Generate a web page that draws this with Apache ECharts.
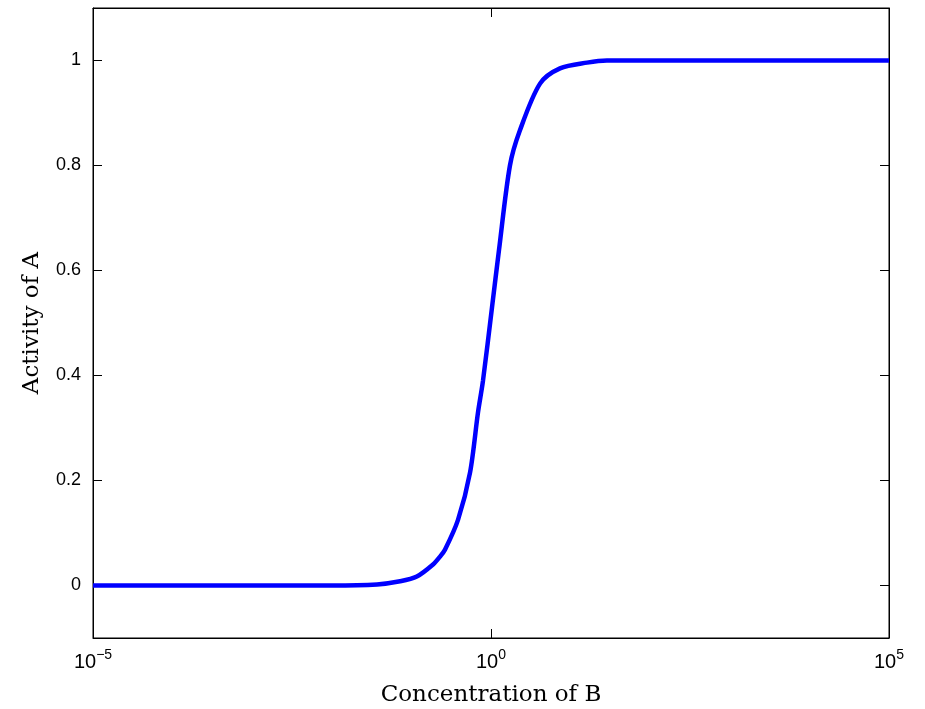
<!DOCTYPE html>
<html>
<head>
<meta charset="utf-8">
<script src="https://cdn.jsdelivr.net/npm/echarts@6/dist/echarts.min.js"></script>
<style>html,body{margin:0;padding:0;background:#fff}#c{width:925px;height:709px}</style>
</head>
<body>
<div id="c"></div>
<script>
// Concentration of B
var concB = [1e-5, 1e-3, 1e-2, 0.037, 0.072, 0.117, 0.187, 0.229, 0.264, 0.385, 0.545, 0.687, 0.793, 1.03, 1.26, 1.73, 2.31, 4.13, 7.36, 16.1, 28.6, 1e3, 1e5];
// Activity of A
var activityA = [0, 0, 0, 0.002, 0.008, 0.017, 0.04, 0.055, 0.068, 0.125, 0.215, 0.33, 0.39, 0.53, 0.639, 0.8, 0.867, 0.956, 0.985, 0.996, 1.0, 1.0, 1.0];
// Tick values
var xTicks = [1e-5, 1, 1e5];
var yTicks = [0, 0.2, 0.4, 0.6, 0.8, 1];

function fmtX(v){
  var e = Math.round(Math.log10(v));
  return '{b|10}{s|' + String(e).replace('-', '\u2212') + '}';
}
function mkTick(vals){
  return {show: true, inside: true, length: 9, lineStyle: {color: '#000', width: 1}, customValues: vals};
}
var chart = echarts.init(document.getElementById('c'));
var data = concB.map(function(x, i){ return [x, activityA[i]]; });
chart.setOption({
  animation: false,
  backgroundColor: '#fff',
  grid: {left: 93, right: 36, top: 8, bottom: 71, show: true, borderColor: '#000', borderWidth: 1,
    containLabel: false, outerBoundsMode: 'none'},
  xAxis: [{
    type: 'log', logBase: 10, min: 1e-5, max: 1e5, position: 'bottom',
    name: 'Concentration of B', nameLocation: 'middle', nameGap: 46,
    nameTextStyle: {fontFamily: 'DejaVu Serif', fontSize: 23, color: '#000'},
    axisLine: {show: true, onZero: false, lineStyle: {color: '#000'}},
    axisTick: mkTick(xTicks),
    minorTick: {show: false},
    splitLine: {show: false},
    axisLabel: {
      margin: 10, color: '#000', formatter: fmtX, customValues: xTicks,
      rich: {
        b: {fontFamily: 'Liberation Sans', fontSize: 20, color: '#000', verticalAlign: 'bottom', lineHeight: 24},
        s: {fontFamily: 'Liberation Sans', fontSize: 14, color: '#000', verticalAlign: 'top', lineHeight: 24, padding: [0, 0, 10, 0]}
      }
    }
  }, {
    type: 'log', logBase: 10, min: 1e-5, max: 1e5, position: 'top',
    axisLine: {show: true, onZero: false, lineStyle: {color: '#000'}},
    axisTick: mkTick(xTicks),
    axisLabel: {show: false}, splitLine: {show: false}
  }],
  yAxis: [{
    type: 'value', min: -0.1, max: 1.1,
    name: 'Activity of A', nameLocation: 'middle', nameGap: 49, nameRotate: 90,
    nameTextStyle: {fontFamily: 'DejaVu Serif', fontSize: 23, color: '#000'},
    axisLine: {show: true, onZero: false, lineStyle: {color: '#000'}},
    axisTick: mkTick(yTicks),
    axisLabel: {fontFamily: 'Liberation Sans', fontSize: 18, color: '#000', margin: 12,
      customValues: yTicks,
      formatter: function(v){ return Math.abs(v) < 1e-9 ? '0' : (+v.toFixed(1)).toString(); }},
    splitLine: {show: false}
  }, {
    type: 'value', min: -0.1, max: 1.1, position: 'right',
    axisLine: {show: true, onZero: false, lineStyle: {color: '#000'}},
    axisTick: mkTick(yTicks),
    axisLabel: {show: false}, splitLine: {show: false}
  }],
  series: [{
    type: 'line', data: data, smooth: 0.3, showSymbol: false, symbol: 'none',
    lineStyle: {color: '#0000ff', width: 4.5}
  }]
});
</script>
</body>
</html>
